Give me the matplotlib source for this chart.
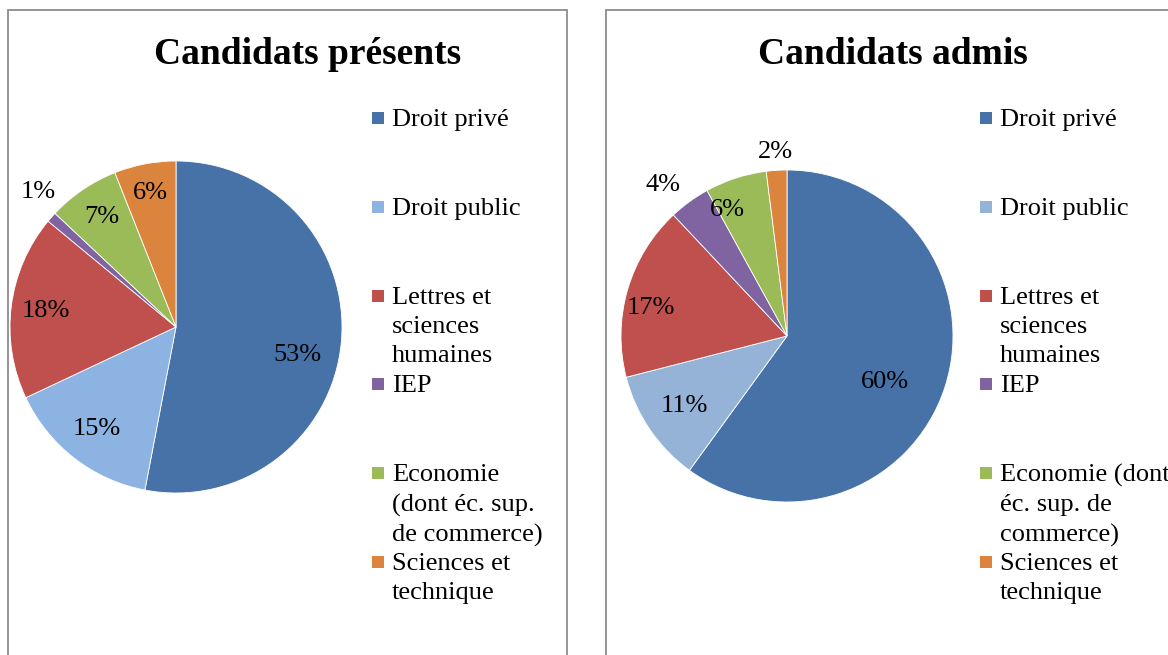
import numpy as np
import matplotlib.pyplot as plt
from matplotlib.patches import Rectangle

plt.rcParams['font.family'] = ['Liberation Serif', 'DejaVu Serif']

# data
categories = ["Droit privé", "Droit public", "Lettres et sciences humaines",
              "IEP", "Economie (dont éc. sup. de commerce)", "Sciences et technique"]
presents = [53, 15, 18, 1, 7, 6]
admis = [60, 11, 17, 4, 6, 2]

# legend labels as wrapped in each panel
labels_presents = ["Droit privé", "Droit public", "Lettres et\nsciences\nhumaines", "IEP",
                   "Economie\n(dont éc. sup.\nde commerce)", "Sciences et\ntechnique"]
labels_admis = ["Droit privé", "Droit public", "Lettres et\nsciences\nhumaines", "IEP",
                "Economie (dont\néc. sup. de\ncommerce)", "Sciences et\ntechnique"]

colors_presents = ['#4672A8', '#8DB3E2', '#C0504D', '#8064A2', '#9BBB59', '#DB843D']
colors_admis = ['#4672A8', '#95B3D7', '#C0504D', '#8064A2', '#9BBB59', '#DB843D']

W, H = 1168, 655
fig = plt.figure(figsize=(W / 100, H / 100), dpi=100)
ax = fig.add_axes([0, 0, 1, 1])


def panel(x0, width, values, colors, labels, title, title_x, center,
          lab_r, lab_shift, leg_x):
    # border of the chart area
    ax.add_patch(Rectangle((x0, -20), width, H - 10 + 20,
                           fill=False, edgecolor='#8C8C8C', linewidth=1.3))
    ax.text(title_x, H - 54, title, fontsize=27, fontweight='bold',
            ha='center', va='center')
    r = 166
    wedges, _ = ax.pie(values, colors=colors, startangle=90, counterclock=False,
                       center=center, radius=r,
                       wedgeprops=dict(edgecolor='white', linewidth=0.6))
    # data labels ("best fit" placement, mostly inside)
    for w, v, f, s in zip(wedges, values, lab_r, lab_shift):
        a = np.deg2rad((w.theta1 + w.theta2) / 2 + s)
        ax.text(center[0] + f * r * np.cos(a), center[1] + f * r * np.sin(a),
                f"{v}%", fontsize=19, ha='center', va='center')
    # legend, evenly spaced entries like the original
    y_first = H - 118
    step = 88.8
    for i, (lab, c) in enumerate(zip(labels, colors)):
        y = y_first - i * step
        ax.add_patch(Rectangle((leg_x, y - 6), 12, 12, facecolor=c, edgecolor='none'))
        ax.text(leg_x + 20, y + 9, lab, fontsize=19, ha='left', va='top',
                linespacing=1.42)


panel(8, 559, presents, colors_presents, labels_presents, "Candidats présents", 308,
      (176, H - 327), [0.75, 0.78, 0.79, 1.16, 0.8, 0.82],
      [-7.6, 0, 0, -3, 0, 0], 372)
panel(606, 700, admis, colors_admis, labels_admis, "Candidats admis", 893,
      (787, H - 336), [0.65, 0.75, 0.84, 1.18, 0.84, 1.11],
      [-7.4, 0, 4.6, 3.4, 7.5, 0], 980)

ax.set_xlim(0, W)
ax.set_ylim(0, H)
ax.set_aspect('equal')
ax.axis('off')

fig.savefig('out.png', dpi=100)
